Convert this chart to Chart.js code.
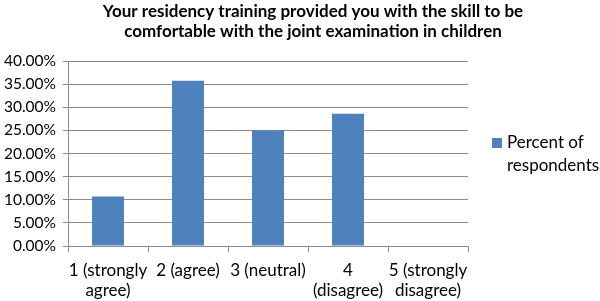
<!DOCTYPE html>
<html>
<head>
<meta charset="utf-8">
<script src="https://cdn.jsdelivr.net/npm/chart.js@4.4.1/dist/chart.umd.min.js"></script>
<style>
  body { margin: 0; background: #fff; }
  canvas { display: block; }
</style>
</head>
<body>
<canvas id="graphique" width="600" height="301"></canvas>
<script>
// Données du graphique
const categories = [['1 (strongly', 'agree)'], ['2 (agree)'], ['3 (neutral)'], ['4', '(disagree)'], ['5 (strongly', 'disagree)']];
const pourcentages = [0.1071, 0.3571, 0.25, 0.2857, 0];
const titre = ['Your residency training provided you with the skill to be', 'comfortable with the joint examination in children'];
const nomSerie = ['Percent of', 'respondents'];

const police = 'Lato, "Open Sans", sans-serif';
const bleu = '#4F81BD';
const gris = '#8C8C8C';

// Titre et légende dessinés à la main (texte sur deux lignes)
const textesPlugin = {
    id: 'textes',
    afterDraw(chart) {
        const ctx = chart.ctx;
        ctx.save();
        ctx.fillStyle = '#000';
        ctx.textBaseline = 'middle';
        ctx.font = 'bold 17px ' + police;
        ctx.textAlign = 'center';
        titre.forEach((ligne, i) => ctx.fillText(ligne, 313, 12 + i * 20));

        ctx.fillStyle = bleu;
        ctx.fillRect(492, 138, 10, 10);
        ctx.fillStyle = '#000';
        ctx.font = '17px ' + police;
        ctx.textAlign = 'left';
        nomSerie.forEach((ligne, i) => ctx.fillText(ligne, 507, 143 + i * 23));
        ctx.restore();
    }
};

const ctx = document.getElementById('graphique').getContext('2d');
new Chart(ctx, {
    type: 'bar',
    data: {
        labels: categories,
        datasets: [{
            label: nomSerie.join(' '),
            data: pourcentages,
            backgroundColor: bleu,
            categoryPercentage: 1,
            barPercentage: 0.4
        }]
    },
    options: {
        responsive: false,
        animation: false,
        layout: { padding: { top: 61, right: 132, left: 0, bottom: 0 } },
        plugins: {
            legend: { display: false },
            title: { display: false },
            tooltip: { enabled: false }
        },
        scales: {
            x: {
                afterFit: (scale) => { scale.height = 55; },
                grid: { drawOnChartArea: false, offset: true, tickLength: 6, color: gris },
                border: { color: gris },
                ticks: {
                    color: '#000',
                    font: { family: police, size: 17, lineHeight: 1.2 },
                    maxRotation: 0,
                    autoSkip: false,
                    padding: 8
                }
            },
            y: {
                min: 0,
                max: 0.4,
                afterFit: (scale) => { scale.width = 68; },
                grid: { color: gris, tickLength: 5 },
                border: { color: gris },
                ticks: {
                    stepSize: 0.05,
                    color: '#000',
                    font: { family: police, size: 15.5 },
                    padding: 7,
                    callback: (v) => (v * 100).toFixed(2) + '%'
                }
            }
        }
    },
    plugins: [textesPlugin]
});
</script>
</body>
</html>
